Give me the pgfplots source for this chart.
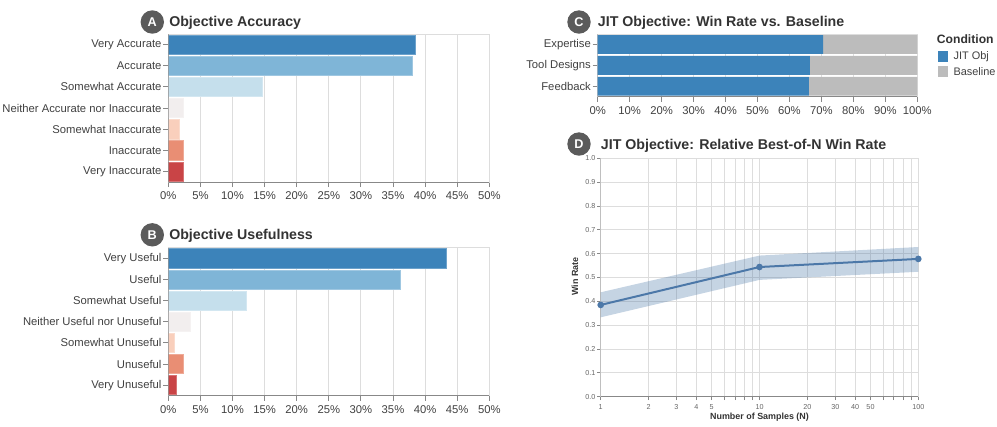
\documentclass[border=0pt]{standalone}
\usepackage{fontspec}
\setmainfont{Liberation Sans}
\usepackage{pgfplots}
\pgfplotsset{compat=1.18}

\definecolor{vacc}{HTML}{3C83BA}
\definecolor{acc}{HTML}{7FB5D7}
\definecolor{sacc}{HTML}{C5DFEC}
\definecolor{neut}{HTML}{F2EEEE}
\definecolor{sina}{HTML}{F9CFBC}
\definecolor{ina}{HTML}{E98E74}
\definecolor{vina}{HTML}{C94446}
\definecolor{gridc}{HTML}{DDDDDD}
\definecolor{axisc}{HTML}{888888}
\definecolor{textc}{HTML}{404040}
\definecolor{tickc}{HTML}{666666}
\definecolor{titlec}{HTML}{333333}
\definecolor{badge}{HTML}{5B5B5B}
\definecolor{baseg}{HTML}{BCBCBC}
\definecolor{lineb}{HTML}{4C78A8}

\pgfplotsset{
  panel/.style={scale only axis, anchor=south west,
    axis line style={draw=gridc, line width=0.6pt},
    xtick pos=left, ytick pos=left,
    tick align=outside, major tick length=3.75pt,
    tick style={draw=axisc, line width=0.6pt},
    every tick label/.append style={text=textc, font=\fontsize{8.45}{10}\selectfont},
    yticklabel style={inner xsep=1.2pt},
    /pgf/number format/assume math mode=true,
    major grid style={draw=gridc, line width=0.6pt}},
  hbars/.style={panel, xbar, bar shift=0pt, bar width=0.91,
    xmin=0, xmax=50, ymin=-0.5, ymax=6.5, ytick={0,...,6},
    xtick={0,5,...,50}, xmajorgrids,
    xticklabel={\pgfmathprintnumber{\tick}\%},
    width=240.75pt, height=111pt}
}
\newcommand\axlines{\draw[axisc, line width=0.6pt] (rel axis cs:0,1) -- (rel axis cs:0,0) -- (rel axis cs:1,0);}
\newcommand\badge[3]{\fill[badge] (#1,#2) circle (11.7);
  \node[text=white, font=\fontsize{9.5}{10}\selectfont\bfseries] at (#1,#2) {#3};}
\newcommand\ptitle[3]{\node[anchor=base west, inner sep=0pt, text=titlec, font=\fontsize{10.65}{12}\selectfont\bfseries] at (#1,#2) {#3};}

\begin{document}
\begin{tikzpicture}[x=0.75pt, y=-0.75pt]
\useasboundingbox (0,0) rectangle (997,426);
\coordinate (pa) at (168.3,182);
\coordinate (pb) at (168.3,395.7);
\coordinate (pc) at (597.7,96.7);
\coordinate (pd) at (600.7,396.7);

% A: Objective Accuracy
\begin{axis}[hbars, at={(pa)},
  yticklabels={Very Inaccurate, Inaccurate, Somewhat Inaccurate, Neither Accurate nor Inaccurate, Somewhat Accurate, Accurate, Very Accurate}]
\addplot[fill=vacc, draw=vacc!75!white] coordinates {(38.5,6)};
\addplot[fill=acc, draw=acc!75!white] coordinates {(38.0,5)};
\addplot[fill=sacc, draw=sacc!75!white] coordinates {(14.6,4)};
\addplot[fill=neut, draw=neut!75!white] coordinates {(2.3,3)};
\addplot[fill=sina, draw=sina!75!white] coordinates {(1.7,2)};
\addplot[fill=ina, draw=ina!75!white] coordinates {(2.4,1)};
\addplot[fill=vina, draw=vina!75!white] coordinates {(2.4,0)};
\axlines
\end{axis}

% B: Objective Usefulness
\begin{axis}[hbars, at={(pb)},
  yticklabels={Very Unuseful, Unuseful, Somewhat Unuseful, Neither Useful nor Unuseful, Somewhat Useful, Useful, Very Useful}]
\addplot[fill=vacc, draw=vacc!75!white] coordinates {(43.3,6)};
\addplot[fill=acc, draw=acc!75!white] coordinates {(36.2,5)};
\addplot[fill=sacc, draw=sacc!75!white] coordinates {(12.2,4)};
\addplot[fill=neut, draw=neut!75!white] coordinates {(3.4,3)};
\addplot[fill=sina, draw=sina!75!white] coordinates {(0.9,2)};
\addplot[fill=ina, draw=ina!75!white] coordinates {(2.4,1)};
\addplot[fill=vina, draw=vina!75!white] coordinates {(1.2,0)};
\axlines
\end{axis}

% C: Win rate vs baseline
\begin{axis}[panel, at={(pc)}, width=239.7pt, height=47pt,
  xbar stacked, bar width=0.9, xmin=0, xmax=100, ymin=-0.5, ymax=2.5,
  ytick={0,1,2}, yticklabels={Feedback, Tool Designs, Expertise},
  xtick={0,10,...,100}, xmajorgrids,
  xticklabel={\pgfmathprintnumber{\tick}\%}]
\addplot[fill=vacc, draw=none] coordinates {(66.1,0) (66.4,1) (70.5,2)};
\addplot[fill=baseg, draw=none] coordinates {(33.9,0) (33.6,1) (29.5,2)};
\axlines
\end{axis}

% D: Best-of-N, x = log10(N)
\begin{axis}[panel, at={(pd)}, width=238.2pt, height=178.8pt,
  xmin=0, xmax=2, ymin=0, ymax=1,
  xtick={0,0.30103,0.47712,0.60206,0.69897,0.77815,0.84510,0.90309,0.95424,1,1.30103,1.47712,1.60206,1.69897,1.77815,1.84510,1.90309,1.95424,2},
  xticklabels={1,2,3,4,5,,,,,10,20,30,40,50,,,,,100},
  ytick={0,0.1,0.2,0.3,0.4,0.5,0.6,0.7,0.8,0.9,1},
  yticklabels={0.0,0.1,0.2,0.3,0.4,0.5,0.6,0.7,0.8,0.9,1.0},
  grid=major,
  every tick label/.append style={text=tickc, font=\fontsize{5.4}{6}\selectfont},
  major tick length=2.5pt]
\addplot[fill=lineb, fill opacity=0.32, draw=none] coordinates {(0,0.438) (1,0.592) (2,0.628) (2,0.524) (1,0.490) (0,0.333)};
\addplot[lineb, line width=1.5pt, mark=*, mark size=1.7pt] coordinates {(0,0.385) (1,0.544) (2,0.578)};
\axlines
\end{axis}

\node[font=\fontsize{6.7}{8}\selectfont\bfseries, text=titlec] at (759.5,416.7) {Number of Samples (N)};
\node[font=\fontsize{6.7}{8}\selectfont\bfseries, text=titlec, rotate=90] at (575,276.7) {Win Rate};

% titles and badges
\badge{152.3}{22}{A}
\ptitle{169}{26.7}{Objective Accuracy}
\badge{152.3}{234.8}{B}
\ptitle{169}{239.3}{Objective Usefulness}
\badge{579}{22}{C}
\ptitle{597.7}{26.7}{JIT Objective: Win Rate vs. Baseline}
\badge{579}{144}{D}
\ptitle{600.7}{149.3}{JIT Objective: Relative Best-of-N Win Rate}

% legend
\node[anchor=base west, inner sep=0pt, text=titlec, font=\fontsize{9.1}{10}\selectfont\bfseries] at (936.7,43.3) {Condition};
\fill[vacc] (937.7,51) rectangle (948.3,62);
\fill[baseg] (937.7,66) rectangle (948.3,76.7);
\node[anchor=west, inner sep=0pt, text=textc, font=\fontsize{8.2}{10}\selectfont] at (953.3,56.5) {JIT Obj};
\node[anchor=west, inner sep=0pt, text=textc, font=\fontsize{8.2}{10}\selectfont] at (953.3,71.3) {Baseline};
\end{tikzpicture}
\end{document}
